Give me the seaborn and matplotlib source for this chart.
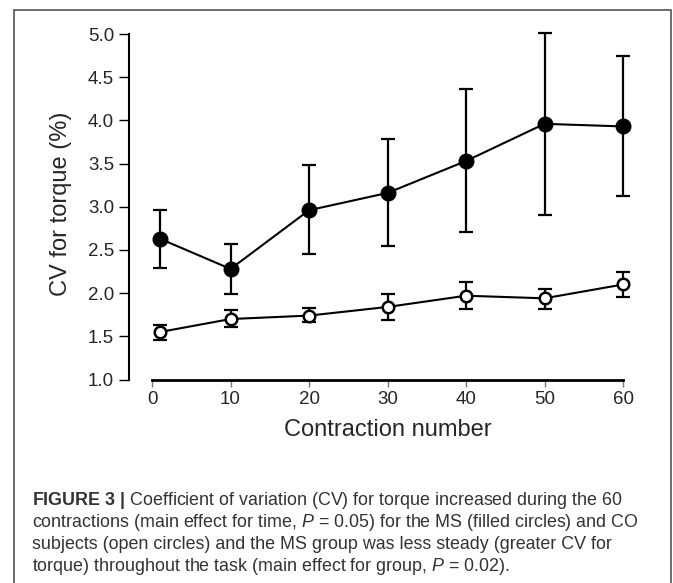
import matplotlib
matplotlib.use("Agg")
import matplotlib.pyplot as plt
from matplotlib.patches import Rectangle
import seaborn as sns
import pandas as pd
import numpy as np

# ---- data ----
contraction = [1, 10, 20, 30, 40, 50, 60]
ms_mean  = [2.63, 2.28, 2.96, 3.16, 3.53, 3.96, 3.93]
ms_lower = [2.29, 1.99, 2.45, 2.54, 2.71, 2.90, 3.12]
ms_upper = [2.96, 2.57, 3.48, 3.79, 4.36, 5.01, 4.75]
co_mean  = [1.55, 1.70, 1.74, 1.84, 1.97, 1.94, 2.10]
co_lower = [1.46, 1.61, 1.66, 1.69, 1.82, 1.82, 1.95]
co_upper = [1.63, 1.80, 1.83, 1.99, 2.13, 2.05, 2.25]
x_ticks = [0, 10, 20, 30, 40, 50, 60]
y_ticks = [1.0, 1.5, 2.0, 2.5, 3.0, 3.5, 4.0, 4.5, 5.0]

ms_df = pd.DataFrame({"contraction": contraction, "cv": ms_mean})
co_df = pd.DataFrame({"contraction": contraction, "cv": co_mean})

sns.set_style("white")
plt.rcParams["font.family"] = ["Liberation Sans", "DejaVu Sans"]
plt.rcParams["mathtext.fontset"] = "custom"
plt.rcParams["mathtext.rm"] = "Liberation Sans"
plt.rcParams["mathtext.it"] = "Liberation Sans:italic"
plt.rcParams["mathtext.bf"] = "Liberation Sans:bold"

W, H = 673, 583
fig = plt.figure(figsize=(W / 100, H / 100), dpi=100)
fig.patch.set_facecolor("white")

# axes placement (pixel-based)
ax_left, ax_right = 129.3, 638.7
ax_top, ax_bottom = 29.7, 379.5
ax = fig.add_axes([ax_left / W, (H - ax_bottom) / H,
                   (ax_right - ax_left) / W, (ax_bottom - ax_top) / H])

# error bars
ax.errorbar(contraction, ms_mean,
            yerr=[np.array(ms_mean) - np.array(ms_lower), np.array(ms_upper) - np.array(ms_mean)],
            fmt="none", ecolor="black", elinewidth=1.6, capsize=4.7, capthick=1.6, zorder=2)
ax.errorbar(contraction, co_mean,
            yerr=[np.array(co_mean) - np.array(co_lower), np.array(co_upper) - np.array(co_mean)],
            fmt="none", ecolor="black", elinewidth=1.6, capsize=4.7, capthick=1.6, zorder=2)

# lines + markers via seaborn
sns.lineplot(data=ms_df, x="contraction", y="cv", ax=ax, color="black", linewidth=1.5,
             marker="o", markersize=10.5, markerfacecolor="black", markeredgecolor="black",
             markeredgewidth=1, zorder=3, legend=False)
sns.lineplot(data=co_df, x="contraction", y="cv", ax=ax, color="black", linewidth=1.5,
             marker="o", markersize=8.3, markerfacecolor="white", markeredgecolor="black",
             markeredgewidth=1.8, zorder=3, legend=False)

ax.set_xlim(-2.9, 62)
ax.set_ylim(1.0, 5.05)
ax.set_xticks(x_ticks)
ax.set_xticklabels([str(v) for v in x_ticks])
ax.set_yticks(y_ticks)
ax.set_yticklabels([f"{v:.1f}" for v in y_ticks])

for s in ["top", "right"]:
    ax.spines[s].set_visible(False)
ax.spines["left"].set_bounds(1.0, 5.0)
ax.spines["left"].set_linewidth(1.5)
ax.spines["left"].set_color("black")
ax.spines["bottom"].set_bounds(0, 60)
ax.spines["bottom"].set_linewidth(2.0)
ax.spines["bottom"].set_color("black")

ax.tick_params(axis="y", direction="out", length=7, width=1.0, color="black",
               labelsize=13.5, pad=4, left=True)
ax.tick_params(axis="x", direction="out", length=5, width=1.0, color="#777777",
               labelsize=13.5, pad=3, bottom=True)

ax.set_xlabel("Contraction number", fontsize=17)
ax.set_ylabel("CV for torque (%)", fontsize=17)
ax.xaxis.set_label_coords((387.5 - ax_left) / (ax_right - ax_left),
                          (ax_bottom - 419) / (ax_bottom - ax_top))
ax.yaxis.set_label_coords((72 - ax_left) / (ax_right - ax_left),
                          (ax_bottom - 204) / (ax_bottom - ax_top))

# outer frame
fig.patches.append(Rectangle((14 / W, -0.05), (671 - 14) / W, (H - 10) / H + 0.05,
                             transform=fig.transFigure, fill=False,
                             edgecolor="#555555", linewidth=1.2))

# caption
cap_lines = [
    r"$\mathbf{FIGURE\ 3\ |}$ Coefficient of variation (CV) for torque increased during the 60",
    r"contractions (main effect for time, $\it{P}$ = 0.05) for the MS (filled circles) and CO",
    r"subjects (open circles) and the MS group was less steady (greater CV for",
    r"torque) throughout the task (main effect for group, $\it{P}$ = 0.02).",
]
baselines = [505, 527, 549, 571]
for line, b in zip(cap_lines, baselines):
    fig.text(32 / W, (H - b) / H, line, fontsize=12.9, color="#333333",
             ha="left", va="baseline")

fig.savefig("out.png", dpi=100)
